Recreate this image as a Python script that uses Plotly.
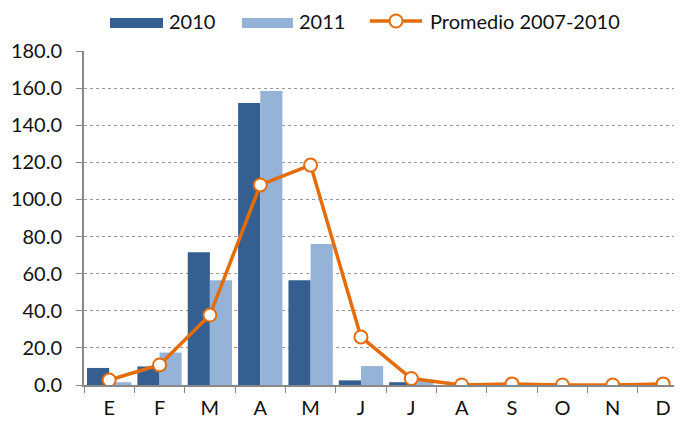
import plotly.graph_objects as go

months = ["E", "F", "M", "A", "M ", "J", "J ", "A ", "S", "O", "N", "D"]
month_labels = ["E", "F", "M", "A", "M", "J", "J", "A", "S", "O", "N", "D"]
y2010 = [9.2, 10.0, 71.5, 152.0, 56.5, 2.5, 1.5, 0, 0, 0, 0, 0]
y2011 = [1.5, 17.5, 56.5, 158.5, 76.0, 10.2, 2.0, 0, 0, 0, 0, 0]
promedio = [2.7, 10.8, 37.7, 107.8, 118.5, 25.9, 3.5, 0.0, 0.6, 0.0, 0.0, 0.6]
y_ticks = [0, 20, 40, 60, 80, 100, 120, 140, 160, 180]

FONT = "Lato, 'Open Sans', sans-serif"
ORANGE = "#E46C0A"
DARK = "#365F91"
LIGHT = "#95B3D7"

fig = go.Figure()
fig.add_trace(go.Bar(x=months, y=y2010, name="2010",
                     marker=dict(color=DARK, line=dict(width=0))))
fig.add_trace(go.Bar(x=months, y=y2011, name="2011",
                     marker=dict(color=LIGHT, line=dict(width=0))))
fig.add_trace(go.Scatter(
    x=months, y=promedio, name="Promedio 2007-2010", mode="lines+markers",
    line=dict(color=ORANGE, width=3.5),
    marker=dict(size=13, color="white", line=dict(color=ORANGE, width=2)),
))

# hand-drawn legend (wide swatches like the original)
PL, PW, PB, PH = 84, 598, 385, 334   # plot box in page pixels


def px(x):
    return (x - PL) / PW


def py(y):
    return (PB - y) / PH


shapes = [
    dict(type="rect", xref="paper", yref="paper", x0=px(110), x1=px(163),
         y0=py(28), y1=py(18), fillcolor=DARK, line=dict(width=0)),
    dict(type="rect", xref="paper", yref="paper", x0=px(242), x1=px(293),
         y0=py(28), y1=py(18), fillcolor=LIGHT, line=dict(width=0)),
    dict(type="line", xref="paper", yref="paper", x0=px(370), x1=px(422),
         y0=py(21), y1=py(21), line=dict(color=ORANGE, width=3.5)),
    dict(type="circle", xref="paper", yref="paper", x0=px(389.5), x1=px(402.5),
         y0=py(27.5), y1=py(14.5), fillcolor="white", line=dict(color=ORANGE, width=2)),
]
legend_texts = [("2010", 167), ("2011", 297), ("Promedio 2007-2010", 428)]
annotations = [
    dict(text=t, xref="paper", yref="paper", x=px(x0), y=py(21), xanchor="left",
         yanchor="middle", showarrow=False, font=dict(size=20, color="#111"))
    for t, x0 in legend_texts
]

fig.update_layout(
    width=674, height=414, template=None,
    paper_bgcolor="white", plot_bgcolor="white",
    font=dict(family=FONT, color="#111", size=20),
    margin=dict(l=76, r=0, t=43, b=37, autoexpand=False),
    barmode="group", bargap=0.12, bargroupgap=0,
    showlegend=False, shapes=shapes, annotations=annotations,
)
fig.update_xaxes(
    tickvals=months, ticktext=month_labels, tickson="boundaries",
    range=[-0.5, 11.375], automargin=False,
    ticks="outside", ticklen=6, tickcolor="#888", showline=True,
    linecolor="#888", linewidth=2, showgrid=False,
    tickfont=dict(size=20), ticklabelstandoff=4,
)
fig.update_yaxes(
    range=[0, 180], tickvals=y_ticks, ticktext=[f"{v:.1f}" for v in y_ticks],
    automargin=False,
    ticks="outside", ticklen=6, tickcolor="#888", showline=True,
    linecolor="#888", linewidth=2, gridcolor="#999", griddash="dot", gridwidth=1,
    zeroline=False, tickfont=dict(size=20), ticklabelstandoff=10,
)

fig.write_html("out.html")
